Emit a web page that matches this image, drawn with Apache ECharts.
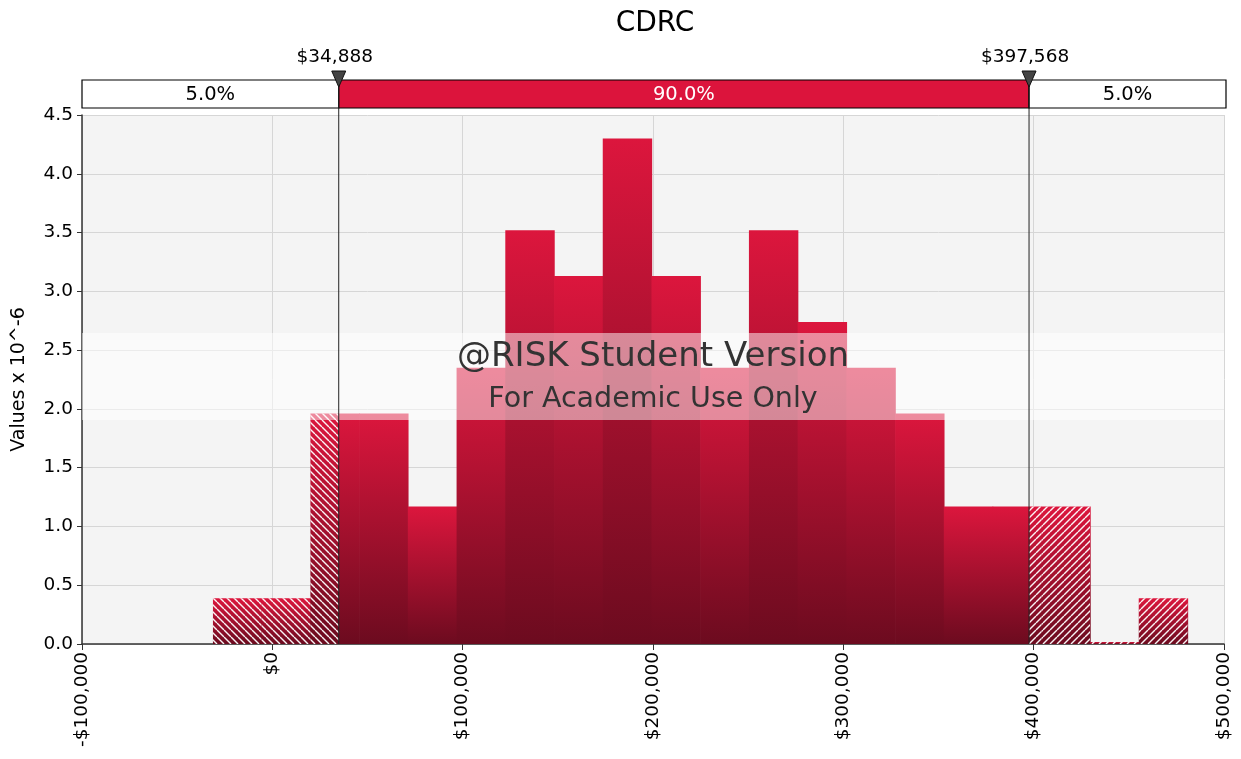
<!DOCTYPE html>
<html>
<head>
<meta charset="utf-8">
<script src="https://cdn.jsdelivr.net/npm/echarts@6/dist/echarts.min.js"></script>
<style>
  html, body { margin: 0; padding: 0; background: #fff; }
  #chart { width: 1241px; height: 759px; }
</style>
</head>
<body>
<div id="chart"></div>
<script>
// histogram bins (edges in $) and density values (x 10^-6)
const binEdges = [-31200, -5600, 20000, 45600, 71200, 96800, 122400, 148000, 173600, 199200,
  224800, 250400, 276000, 301600, 327200, 352800, 378400, 404000, 429600, 455200, 480800];
const densities = [0.39, 0.39, 1.96, 1.96, 1.17, 2.35, 3.52, 3.13, 4.30, 3.13,
  2.35, 3.52, 2.74, 2.35, 1.96, 1.17, 1.17, 1.17, 0, 0.39];
const xTicks = [-100000, 0, 100000, 200000, 300000, 400000, 500000];
const yTicks = [0, 0.5, 1, 1.5, 2, 2.5, 3, 3.5, 4, 4.5];
const pctValues = [34888, 397568];
const pctLabels = ['$34,888', '$397,568'];
const bandLabels = ['5.0%', '90.0%', '5.0%'];

const FONT = 'DejaVu Sans';
const RED = '#dc143c';

// hatch patterns
function makeHatch(dir) {
  const c = document.createElement('canvas');
  c.width = 7; c.height = 7;
  const g = c.getContext('2d');
  g.strokeStyle = 'rgba(255,255,255,0.95)';
  g.lineWidth = 1.4;
  for (let k = -7; k <= 7; k += 7) {
    g.beginPath();
    if (dir > 0) { g.moveTo(k, 0); g.lineTo(k + 7, 7); }
    else { g.moveTo(k + 7, 0); g.lineTo(k, 7); }
    g.stroke();
  }
  return c;
}
const hatchL = { image: makeHatch(1), repeat: 'repeat' };
const hatchR = { image: makeHatch(-1), repeat: 'repeat' };

const barData = densities.map((d, i) => [binEdges[i], binEdges[i + 1], d]);

const chart = echarts.init(document.getElementById('chart'));

function fmtMoney(v) {
  const s = '$' + Math.abs(v).toLocaleString('en-US');
  return v < 0 ? '-' + s : s;
}

const option = {
  animation: false,
  title: {
    text: 'CDRC', left: 650, top: 5, textAlign: 'center',
    textStyle: { fontFamily: FONT, fontSize: 28, fontWeight: 'normal', color: '#000' }
  },
  grid: {
    left: 82, right: 17, top: 115, bottom: 115,
    outerBoundsMode: 'none',
    show: true, backgroundColor: '#f4f4f4', borderWidth: 0
  },
  xAxis: {
    type: 'value', min: xTicks[0], max: xTicks[xTicks.length - 1], interval: 100000,
    axisLine: { show: true, onZero: false, lineStyle: { color: '#333', width: 1.5 } },
    axisTick: { show: true, length: 6, lineStyle: { color: '#333' } },
    splitLine: { show: true, lineStyle: { color: '#d6d6d6' } },
    axisLabel: {
      rotate: 90, fontFamily: FONT, fontSize: 18.5, color: '#000', margin: 8,
      formatter: fmtMoney
    }
  },
  yAxis: {
    type: 'value', min: yTicks[0], max: yTicks[yTicks.length - 1], interval: 0.5,
    name: 'Values x 10^-6', nameLocation: 'middle', nameRotate: 90, nameGap: 53,
    nameTextStyle: { fontFamily: FONT, fontSize: 19, color: '#000' },
    axisLine: { show: true, onZero: false, lineStyle: { color: '#333', width: 1.5 } },
    axisTick: { show: true, length: 5, lineStyle: { color: '#333' } },
    splitLine: { show: true, lineStyle: { color: '#d6d6d6' } },
    axisLabel: {
      fontFamily: FONT, fontSize: 18.5, color: '#000', margin: 9,
      formatter: v => v.toFixed(1)
    }
  },
  series: [{
    type: 'custom',
    data: barData,
    encode: { x: [0, 1], y: 2 },
    renderItem: function (params, api) {
      const lo = api.value(0), hi = api.value(1), v = api.value(2);
      const pTop = api.coord([lo, v]);
      const pBot = api.coord([hi, 0]);
      const x0 = pTop[0], x1 = pBot[0], yb = pBot[1];
      let y0 = pTop[1];
      if (yb - y0 < 2) y0 = yb - 2;
      const cl = api.coord([pctValues[0], 0])[0];
      const cr = api.coord([pctValues[1], 0])[0];
      const grad = new echarts.graphic.LinearGradient(0, 0, 0, 1, [
        { offset: 0, color: '#dc163d' },
        { offset: 1, color: '#6c0b1f' }
      ]);
      const kids = [{
        type: 'rect',
        shape: { x: x0, y: y0, width: x1 - x0 + 0.7, height: yb - y0 },
        style: { fill: grad }
      }];
      if (x0 < cl) {
        kids.push({ type: 'rect', shape: { x: x0, y: y0, width: Math.min(x1, cl) - x0, height: yb - y0 }, style: { fill: hatchL } });
      }
      if (x1 > cr) {
        const xs = Math.max(x0, cr);
        kids.push({ type: 'rect', shape: { x: xs, y: y0, width: x1 - xs, height: yb - y0 }, style: { fill: hatchR } });
      }
      return { type: 'group', children: kids };
    },
    z: 2
  }]
};
chart.setOption(option);

// overlay: percentile band, markers, lines, watermark
function drawOverlay() {
  const px = v => chart.convertToPixel({ gridIndex: 0 }, [v, 0])[0];
  const yBot = chart.convertToPixel({ gridIndex: 0 }, [0, 0])[1];
  const xL = px(xTicks[0]), xR = px(xTicks[xTicks.length - 1]) + 2;
  const c1 = px(pctValues[0]), c2 = px(pctValues[1]);
  const bY = 80, bH = 28;
  const segs = [[xL, c1, '#fff', '#000'], [c1, c2, RED, '#fff'], [c2, xR, '#fff', '#000']];
  const midX = (xL + xR) / 2 - 1;
  const els = [];
  // watermark band
  els.push({
    type: 'rect', z: 50,
    shape: { x: xL, y: 333, width: xR - xL - 2, height: 87 },
    style: { fill: 'rgba(255,255,255,0.5)' }
  });
  els.push({
    type: 'text', z: 51, x: midX, y: 357,
    style: { text: '@RISK Student Version', font: '34px "' + FONT + '"', fill: '#333', align: 'center', verticalAlign: 'middle' }
  });
  els.push({
    type: 'text', z: 51, x: midX, y: 400,
    style: { text: 'For Academic Use Only', font: '28.5px "' + FONT + '"', fill: '#333', align: 'center', verticalAlign: 'middle' }
  });
  segs.forEach((s, i) => {
    els.push({
      type: 'rect', z: 60,
      shape: { x: s[0], y: bY, width: s[1] - s[0], height: bH },
      style: { fill: s[2], stroke: '#000', lineWidth: 1.2 }
    });
    els.push({
      type: 'text', z: 61, x: (s[0] + s[1]) / 2, y: bY + bH / 2 + 1,
      style: { text: bandLabels[i], font: '19.5px "' + FONT + '"', fill: s[3], align: 'center', verticalAlign: 'middle' }
    });
  });
  [c1, c2].forEach((c, i) => {
    els.push({
      type: 'line', z: 70,
      shape: { x1: c, y1: 86, x2: c, y2: yBot },
      style: { stroke: '#222', lineWidth: 1 }
    });
    els.push({
      type: 'polygon', z: 71,
      shape: { points: [[c - 7, 71], [c + 7, 71], [c, 87]] },
      style: { fill: '#444', stroke: '#111', lineWidth: 1 }
    });
    els.push({
      type: 'text', z: 71, x: c - 4, y: 57,
      style: { text: pctLabels[i], font: '18.5px "' + FONT + '"', fill: '#000', align: 'center', verticalAlign: 'middle' }
    });
  });
  chart.setOption({ graphic: { elements: els } });
}
drawOverlay();
</script>
</body>
</html>
